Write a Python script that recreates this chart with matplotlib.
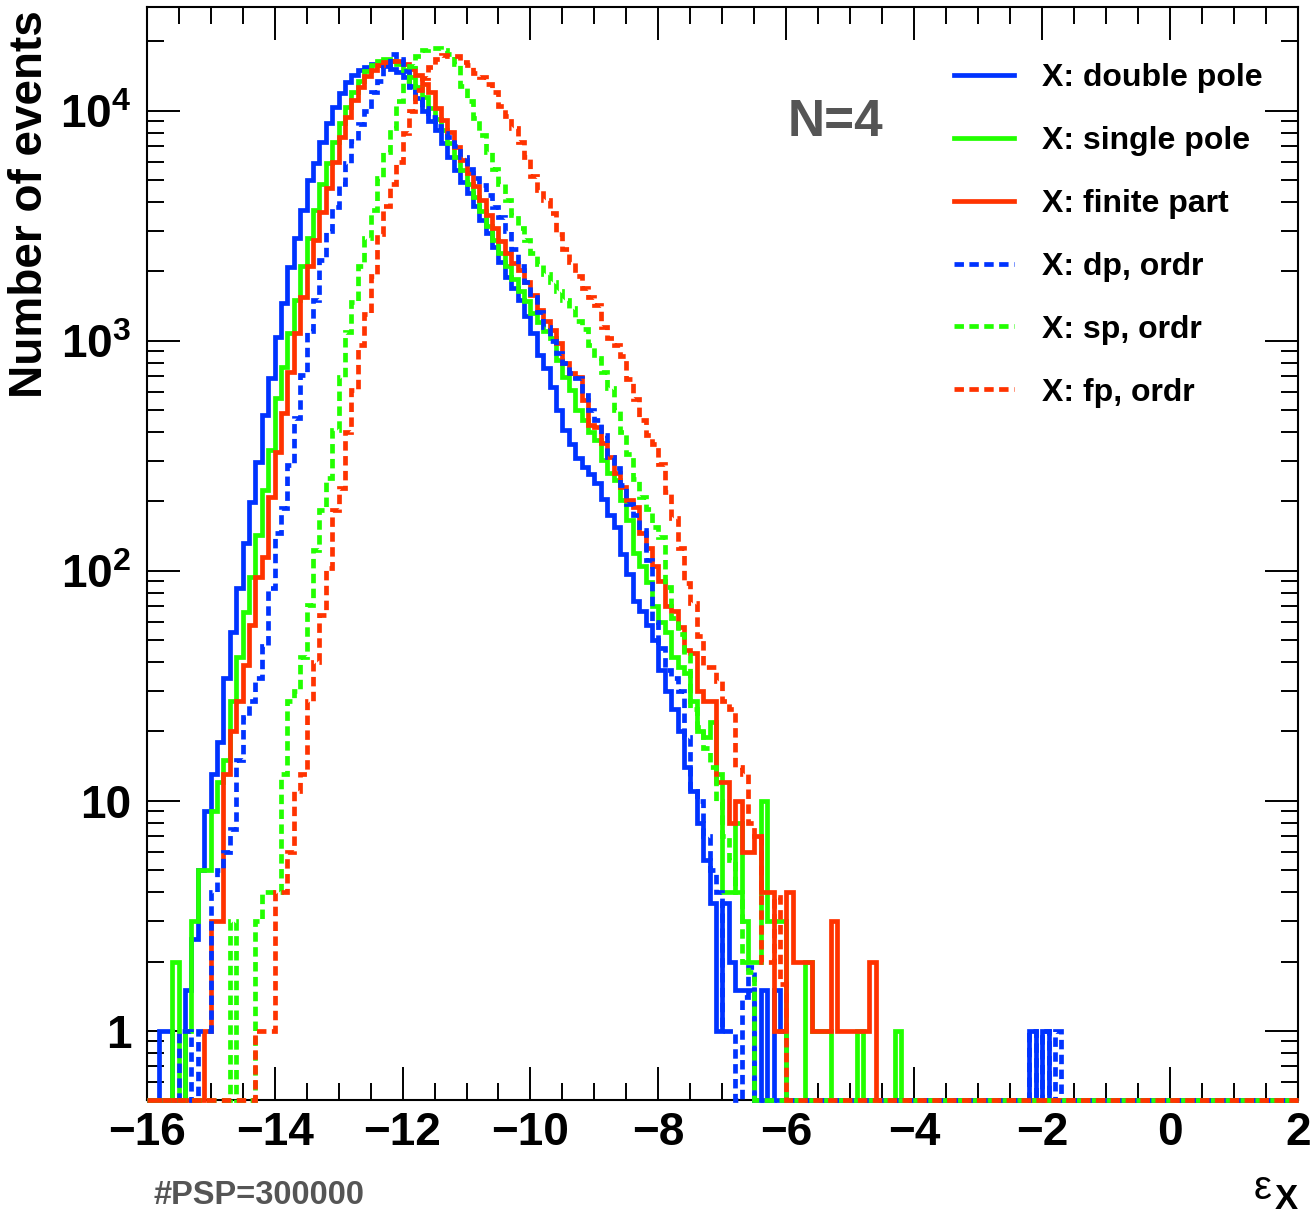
import numpy as np
import matplotlib
matplotlib.use("Agg")
import matplotlib.pyplot as plt
from matplotlib.lines import Line2D
from matplotlib.ticker import FixedLocator, FixedFormatter, NullFormatter

plt.rcParams['font.family'] = ['Liberation Sans', 'DejaVu Sans']
plt.rcParams['font.weight'] = 'bold'
plt.rcParams['mathtext.fontset'] = 'custom'
plt.rcParams['mathtext.rm'] = 'Liberation Sans:bold'
plt.rcParams['mathtext.bf'] = 'Liberation Sans:bold'
plt.rcParams['mathtext.it'] = 'Liberation Sans:bold:italic'

# binning shared by all histograms: 180 bins of 0.1 on [-16, 2]
x_lo, x_hi, n_bins = -16.0, 2.0, 180
y_lo, y_hi = 0.5, 2.82e4

# bin contents, each list starts at the bin with lower edge *_start
# X: double pole
dp_start = -15.8
dp_counts = [1, 1, 0, 0, 1.5, 2.5, 5, 9, 13, 18,
             34, 54, 84, 132, 199, 297, 476, 689, 1040, 1460,
             2090, 2800, 3700, 4990, 5920, 7300, 8840, 10370, 11900, 13300,
             14300, 15000, 15500, 15900, 15800, 15600, 15200, 14700, 14000, 12800,
             11300, 10000, 9000, 8250, 7240, 6300, 5530, 4900, 4390, 3850,
             3350, 2950, 2550, 2200, 1890, 1700, 1500, 1280, 1080, 870,
             760, 628, 500, 410, 355, 310, 282, 262, 240, 205,
             175, 155, 118, 97, 74, 67, 58, 50, 37, 30,
             25, 20, 14, 11, 8, 5.5, 3.6, 1, 3.6, 2,
             1.5, 1.5, 1.5, 0, 1.5, 0, 1.5, 1]
dp_tail_start = -2.2
dp_tail = [1, 0, 1]

# X: single pole
sp_start = -15.6
sp_counts = [2, 0, 1, 3, 5, 5, 9, 12, 15, 27,
             42, 66, 94, 143, 225, 335, 562, 770, 1080, 1500,
             2100, 2800, 3700, 4800, 5900, 7300, 8800, 10400, 12000, 13500,
             14800, 15800, 16500, 16800, 16500, 16000, 15000, 14000, 12700, 11500,
             10300, 9200, 8200, 7200, 6300, 5500, 4800, 4200, 3650, 3150,
             2750, 2400, 2100, 1850, 1650, 1480, 1320, 1200, 1100, 1025,
             824, 695, 611, 501, 450, 400, 370, 303, 265, 248,
             203, 166, 119, 105, 89, 70, 60, 54, 42, 38,
             36, 27, 20, 19, 22, 13, 4, 4, 8, 3,
             2, 2, 10, 3, 3, 3, 0, 0, 0, 2,
             1, 1, 1, 0, 0, 0, 0, 1, 0, 0,
             0, 0, 0, 1]

# X: finite part
fp_start = -15.1
fp_counts = [1, 3, 3, 13, 20, 27, 39, 58, 94, 115,
             209, 328, 485, 731, 1080, 1550, 2100, 2740, 3640, 4600,
             6000, 7700, 9420, 11100, 12700, 14100, 15000, 15800, 16300, 16500,
             16500, 16000, 15200, 14300, 13100, 12100, 10260, 9100, 8100, 6970,
             6100, 5340, 4680, 4090, 3520, 3080, 2700, 2400, 2170, 2030,
             1800, 1580, 1360, 1220, 1110, 977, 800, 725, 694, 552,
             430, 421, 359, 313, 266, 232, 203, 190, 146, 126,
             105, 90, 70, 67, 57, 45, 44, 30, 27, 27,
             12, 12, 8, 10, 6, 6, 7, 4, 4, 1,
             1, 4, 2, 2, 2, 1, 1, 1, 3, 1,
             1, 1, 1, 1, 2]

# X: dp, ordr
dpo_start = -15.5
dpo_counts = [1, 1, 0, 1, 1, 4, 5, 6, 7.5, 15,
              23, 27, 34, 47, 84, 146, 187, 288, 460, 709,
              1100, 1500, 2250, 3000, 3800, 4800, 5900, 7400, 8700, 10000,
              12000, 13400, 15500, 17600, 16800, 14800, 12600, 11200, 10300, 9400,
              8600, 8000, 7700, 7000, 6300, 5600, 5100, 4750, 4300, 3800,
              3450, 3000, 2500, 2100, 1800, 1550, 1330, 1150, 1000, 880,
              800, 720, 688, 580, 500, 450, 390, 313, 280, 236,
              195, 175, 150, 111, 60, 46, 37, 34, 30, 19,
              11, 10, 7, 5, 4, 1, 1, 0, 1.4, 1.9]
dpo_tail_start = -2.2
dpo_tail = [1, 0, 1, 0, 1]

# X: sp, ordr
spo_start = -14.7
spo_counts = [3, 0, 0, 0, 3, 4, 4, 4, 13, 27,
              30, 42, 71, 123, 184, 253, 409, 695, 1090, 1470,
              2100, 2800, 3700, 5100, 6600, 8400, 11000, 13500, 15600, 17200,
              18300, 18700, 18800, 18400, 17600, 16000, 12800, 11000, 9300, 7800,
              6600, 5600, 4800, 4100, 3500, 3100, 2750, 2400, 2150, 1950,
              1800, 1650, 1500, 1380, 1220, 1120, 960, 840, 730, 620,
              500, 400, 320, 250, 210, 185, 155, 140, 85, 62,
              53, 43, 25, 21, 17, 14, 10, 7, 5.5, 4,
              2, 1.8]

# X: fp, ordr
fpo_start = -14.3
fpo_counts = [1, 1, 1, 4, 4, 6, 11, 13, 27, 40,
              64, 103, 184, 228, 400, 610, 960, 1300, 1900, 2900,
              3850, 4800, 6000, 8000, 10000, 12300, 13800, 15400, 16800, 17400,
              17300, 17200, 16300, 15800, 14500, 14000, 13000, 12000, 10500, 9500,
              8400, 7300, 6300, 5200, 4500, 4100, 3600, 2900, 2500, 2200,
              1900, 1700, 1550, 1430, 1150, 1030, 955, 860, 680, 560,
              450, 390, 355, 290, 220, 170, 125, 88, 72, 52,
              38, 38, 33, 27, 25, 14, 13, 8, 7, 2,
              2, 3.8, 1.6]

labels = ["X: double pole", "X: single pole", "X: finite part",
          "X: dp, ordr", "X: sp, ordr", "X: fp, ordr"]

blue, green, red = '#0033ff', '#22ff00', '#ff3300'
dashed = (0, (2.0, 1.15))

edges = np.linspace(x_lo, x_hi, n_bins + 1)
bin_w = (x_hi - x_lo) / n_bins


def fill_bins(start, counts, tail_start=None, tail=()):
    h = np.zeros(n_bins)
    i = int(round((start - x_lo) / bin_w))
    h[i:i + len(counts)] = counts
    if tail_start is not None:
        j = int(round((tail_start - x_lo) / bin_w))
        h[j:j + len(tail)] = tail
    return h


series = [
    (fill_bins(dp_start, dp_counts, dp_tail_start, dp_tail), blue, '-'),
    (fill_bins(sp_start, sp_counts), green, '-'),
    (fill_bins(fp_start, fp_counts), red, '-'),
    (fill_bins(dpo_start, dpo_counts, dpo_tail_start, dpo_tail), blue, dashed),
    (fill_bins(spo_start, spo_counts), green, dashed),
    (fill_bins(fpo_start, fpo_counts), red, dashed),
]

W, H = 1313, 1218
fig = plt.figure(figsize=(W / 100, H / 100), dpi=100)
ax = fig.add_axes([146.7 / W, 1 - 1100 / H, (1298 - 146.7) / W, (1100 - 7) / H])
ax.set_yscale('log')
ax.set_xlim(x_lo, x_hi)
ax.set_ylim(y_lo, y_hi)

lw = 3.4
for h, col, ls in series:
    # empty bins sit on the frame bottom, like ROOT draws them
    ax.stairs(np.maximum(h, y_lo), edges, baseline=None, color=col, lw=lw,
              linestyle=ls, clip_on=False, zorder=3, joinstyle='miter', capstyle='butt')

# axes, ticks
for s in ax.spines.values():
    s.set_linewidth(1.5)

ax.xaxis.set_major_locator(FixedLocator(np.arange(-16, 3, 2)))
ax.xaxis.set_major_formatter(FixedFormatter(['\u2212%d' % -v if v < 0 else '%d' % v
                                             for v in np.arange(-16, 3, 2)]))
ax.xaxis.set_minor_locator(FixedLocator(np.arange(-16, 2.01, 0.5)))

y_major = [1, 10, 100, 1000, 10000]
ax.yaxis.set_major_locator(FixedLocator(y_major))
ax.yaxis.set_major_formatter(FixedFormatter(['1', '10', r'$10^{2}$', r'$10^{3}$', r'$10^{4}$']))
y_minor = [0.6, 0.7, 0.8, 0.9] + [m * d for d in [1, 10, 100, 1000] for m in range(2, 10)] + [20000]
ax.yaxis.set_minor_locator(FixedLocator(y_minor))
ax.yaxis.set_minor_formatter(NullFormatter())

ax.tick_params(which='both', direction='in', top=True, right=True, width=1.4, labelsize=33)
ax.tick_params(which='major', length=24)
ax.tick_params(which='minor', length=12)
ax.tick_params(axis='x', pad=8)
ax.tick_params(axis='y', pad=11)

# axis titles and annotations
fig.text(30 / W, 1 - 10 / H, 'Number of events', rotation=90, ha='center', va='top', fontsize=33)
fig.text(1254 / W, 1 - 1199 / H, '\u03b5', fontsize=29, fontweight='normal', ha='left', va='baseline')
fig.text(1275 / W, 1 - 1209 / H, 'X', fontsize=25, ha='left', va='baseline')
ax.text(835 / W, 1 - 123 / H, 'N=4', transform=fig.transFigure, fontsize=37,
        color='#555555', ha='center', va='center')
fig.text(153 / W, 1 - 1204 / H, '#PSP=300000', fontsize=23.5, color='#555555',
         ha='left', va='baseline')

handles = [Line2D([], [], color=col, lw=lw, linestyle=ls) for _, col, ls in series]
ax.legend(handles, labels, loc='upper left', bbox_to_anchor=(954 / W, 1 - 63 / H),
          bbox_transform=fig.transFigure, frameon=False, fontsize=23,
          handlelength=1.88, handletextpad=0.875, labelspacing=1.03,
          borderpad=0, borderaxespad=0)

fig.savefig('out.png', dpi=100)
